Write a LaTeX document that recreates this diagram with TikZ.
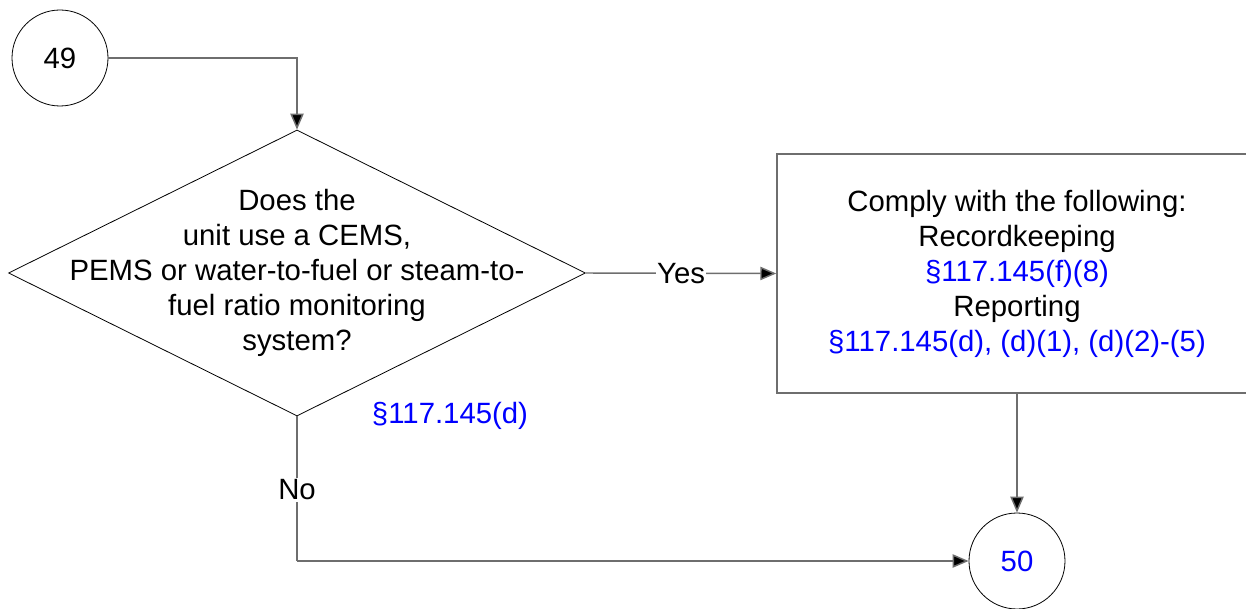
\documentclass[tikz,border=0pt]{standalone}
\usepackage{fontspec}
\setmainfont{Liberation Sans}
\usetikzlibrary{arrows.meta,shapes.geometric}
\definecolor{refblue}{RGB}{0,0,255}
\definecolor{linegray}{RGB}{110,110,110}
\begin{document}
\begin{tikzpicture}[x=0.75pt,y=-0.75pt,
  every node/.style={font=\fontsize{22}{26.25}\selectfont},
  conn/.style={draw=linegray,line width=1.1pt,-{Triangle[length=12pt,width=10pt,fill=black]}},
  plainconn/.style={draw=linegray,line width=1.1pt},
  term/.style={circle,draw=black,line width=0.6pt,minimum size=72pt,inner sep=0pt},
  decision/.style={diamond,draw=black,line width=0.6pt,minimum width=432.75pt,minimum height=214.5pt,inner sep=0pt},
  action/.style={rectangle,draw=linegray,line width=1.1pt,minimum width=360pt,minimum height=179.25pt,inner sep=0pt,align=center},
  lbl/.style={fill=white,inner sep=1pt},
  ref/.style={text=refblue}]
\useasboundingbox (0,0) rectangle (1246,609);
\clip (0,0) rectangle (1246,609);
\node[term] (c49) at (60,58) {49};
\node[decision] (dec) at (297,273) {};
\node[align=center] (dectext) at (297,273) {Does the\\unit use a CEMS,\\PEMS or water-to-fuel or steam-to-\\fuel ratio monitoring\\system?};
\node[action] (box) at (1017,273.5) {Comply with the following:\\Recordkeeping\\\textcolor{refblue}{§117.145(f)(8)}\\Reporting\\\textcolor{refblue}{§117.145(d), (d)(1), (d)(2)-(5)}};
\node[term,text=refblue] (c50) at (1017,561) {50};
\node[ref] (decref) at (450,416) {§117.145(d)};
\coordinate (k1) at (dec.north |- c49.east);
\coordinate (k2) at (dec.south |- c50.west);
\draw[conn] (c49.east) -- (k1) -- (dec.north);
\draw[conn] (dec.east) -- node[lbl] (yes) {Yes} (box.west);
\draw[conn] (box.south) -- (c50.north);
\draw[plainconn] (dec.south) -- (k2);
\draw[conn] (k2) -- (c50.west);
\node[lbl] (no) at (297,490) {No};
\end{tikzpicture}
\end{document}
